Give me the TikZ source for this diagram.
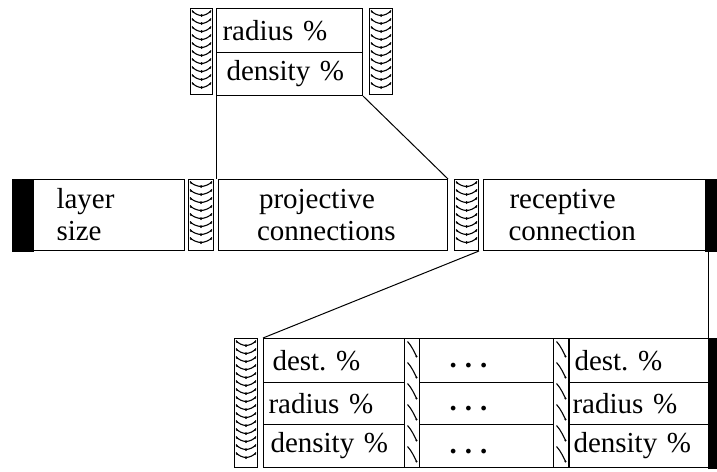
\documentclass[tikz,border=0pt]{standalone}
\usepackage{fontspec}
\setmainfont{Liberation Serif}
\usetikzlibrary{calc}
\frenchspacing

\tikzset{
  field/.style={draw, line width=1pt, inner sep=0pt, anchor=north west,
    font=\fontsize{29}{32}\selectfont},
  wavestrip/.style={draw, line width=1pt, inner sep=0pt, anchor=north west,
    path picture={
      \coordinate (pnw) at (path picture bounding box.north west);
      \coordinate (pne) at (path picture bounding box.north east);
      \foreach \k in {2,10,...,130}{
        \ifdim\k pt<\dimexpr#1pt-7pt\relax
        \draw[line width=1.1pt]
          ($(pnw)+(1.5,\k)$)
            .. controls +(2,3) and +(-3,0) ..
          ($(pnw)!0.5!(pne)+(0,\k+5)$)
            .. controls +(3,0) and +(-2,3) ..
          ($(pne)+(-1.5,\k)$);
        \fill ($(pnw)!0.5!(pne)+(0,\k+5)$) circle (1.5pt);
        \fill ($(pnw)+(2.5,\k+1.5)$) circle (1pt);
        \fill ($(pne)+(-2.5,\k+1.5)$) circle (1pt);
        \fi
      }
    }},
  slashstrip/.style={draw, line width=1pt, inner sep=0pt, anchor=north west,
    minimum width=15pt, minimum height=129pt,
    path picture={
      \foreach \k in {3,24,...,115}{
        \draw[line width=1.1pt]
          ($(path picture bounding box.north west)+(3,\k)$)
            .. controls +(4,4) and +(-2,-4) ..
          ($(path picture bounding box.north east)+(-3,\k+15)$);
        \fill ($(path picture bounding box.north east)+(-3,\k+15)$) circle (1.2pt);
      }
    }},
  blackbar/.style={fill=black, draw=black, line width=1pt},
  link/.style={line width=1pt}
}

\begin{document}
\begin{tikzpicture}[x=1pt, y=-1pt]
\useasboundingbox (0,0) rectangle (717,471);

% ---- top record: radius / density
\node[wavestrip=86, minimum width=22pt, minimum height=86pt] (tl) at (190,8) {};
\node[field, minimum width=146pt, minimum height=44pt, text width=136pt, align=left]
  (trad) at (216,8) {\hspace*{1pt}radius \%};
\node[field, minimum width=146pt, minimum height=43pt, text width=136pt, align=left]
  (tden) at (216,52) {\hspace*{5pt}density \%};
\node[wavestrip=86, minimum width=23pt, minimum height=86pt] (tr) at (369,8) {};

% ---- layer record
\node[field, minimum width=172pt, minimum height=71pt, text width=128pt, align=left]
  (layer) at (12,179) {\hspace*{22pt}layer\\\hspace*{22pt}size};
\fill[blackbar] (layer.north west) rectangle ([xshift=21pt]layer.south west);
\node[wavestrip=71, minimum width=25pt, minimum height=71pt] (m1) at (188,179) {};
\node[field, minimum width=229pt, minimum height=71pt, text width=200pt, align=left]
  (proj) at (218,179) {\hspace*{26pt}projective\\\hspace*{24pt}connections};
\node[wavestrip=71, minimum width=24pt, minimum height=71pt] (m2) at (454,179) {};
\node[field, minimum width=234pt, minimum height=71pt, text width=210pt, align=left]
  (rec) at (483,179) {\hspace*{14pt}receptive\\\hspace*{13pt}connection};
\fill[blackbar] ([xshift=-13pt]rec.north east) rectangle (rec.south east);

% ---- connection list
\node[wavestrip=129, minimum width=23pt, minimum height=129pt] (bs) at (234,338) {};
\node[field, minimum width=141pt, minimum height=44pt, text width=137pt, align=left]
  (d1) at (263,338) {\hspace*{7pt}dest. \%};
\node[field, minimum width=141pt, minimum height=42pt, text width=137pt, align=left]
  (r1) at (263,382) {\hspace*{3pt}radius \%};
\node[field, minimum width=141pt, minimum height=43pt, text width=137pt, align=left]
  (n1) at (263,424) {\hspace*{5pt}density \%};
\node[slashstrip] (s1) at (404,338) {};
\node[field, minimum width=134pt, minimum height=44pt] (d2) at (419,338) {};
\node[field, minimum width=134pt, minimum height=42pt] (r2) at (419,382) {};
\node[field, minimum width=134pt, minimum height=43pt] (n2) at (419,424) {};
\node[slashstrip] (s2) at (553,338) {};
\node[field, minimum width=148pt, minimum height=44pt, text width=144pt, align=left]
  (d3) at (569,338) {\hspace*{3pt}dest. \%};
\node[field, minimum width=148pt, minimum height=42pt, text width=144pt, align=left]
  (r3) at (569,382) {\hspace*{1pt}radius \%};
\node[field, minimum width=148pt, minimum height=43pt, text width=144pt, align=left]
  (n3) at (569,424) {\hspace*{2pt}density \%};
\fill[blackbar] ([xshift=-10pt]d3.north east) rectangle (n3.south east);

% ellipses in the middle column
\foreach \c in {d2,r2,n2}{
  \node[font=\fontsize{29}{32}\bfseries, inner sep=0pt, anchor=base]
    (\c dots) at ([xshift=-18pt, yshift=-7pt]\c.center) {.\hspace{8pt}.\hspace{8pt}.};
}

% ---- connectors
\draw[link] (tden.south west) -- (tden.south west |- proj.north);
\draw[link] (tden.south east) -- (proj.north east);
\draw[link] (m2.south east) -- (d1.north west);
\coordinate (recfoot) at ([xshift=-10pt]rec.south east);
\draw[link] (recfoot) -- (recfoot |- d3.north);
\end{tikzpicture}
\end{document}
